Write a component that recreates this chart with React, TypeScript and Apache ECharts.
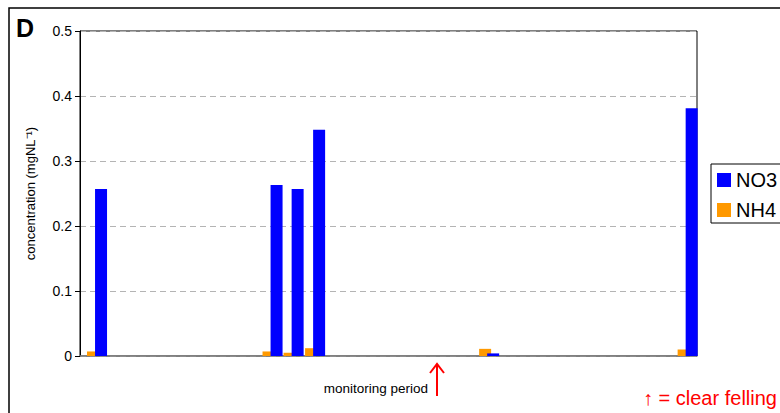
import React, { useEffect, useRef } from "react";
import * as echarts from "echarts";

// sampling positions along the monitoring period (months, estimated)
const samplePositions = [0.8, 9.05, 10.04, 11.05, 19.23, 28.56];
const no3Values = [0.257, 0.263, 0.257, 0.348, 0.004, 0.381];
const nh4Values = [0.007, 0.007, 0.005, 0.012, 0.011, 0.01];
const yTicks = [0, 0.1, 0.2, 0.3, 0.4, 0.5];
const clearFellingAt = 16.78;
const periodMax = 29;

const FONT = "'Liberation Sans', Arial, sans-serif";

export default function App() {
  const ref = useRef<HTMLDivElement>(null);
  useEffect(() => {
    const chart = echarts.init(ref.current!, undefined, { renderer: "svg" });
    const no3 = samplePositions.map((x, i) => [x, no3Values[i]]);
    const nh4 = samplePositions.map((x, i) => [x, nh4Values[i]]);
    chart.setOption({
      animation: false,
      textStyle: { fontFamily: FONT },
      grid: {
        left: 80,
        top: 31,
        right: 83,
        bottom: 57,
        show: true,
        borderColor: "#000",
        borderWidth: 1,
        backgroundColor: "transparent",
      },
      legend: {
        orient: "vertical",
        left: 711,
        top: 164,
        data: ["NO3", "NH4"],
        itemWidth: 14,
        itemHeight: 14,
        itemGap: 10,
        padding: [6, 30, 3, 6],
        borderColor: "#000",
        borderWidth: 1,
        icon: "rect",
        textStyle: { fontSize: 20, color: "#000", fontFamily: FONT },
      },
      xAxis: {
        type: "value",
        min: 0,
        max: periodMax,
        axisLine: { show: true, lineStyle: { color: "#808080", width: 1.5 } },
        axisTick: { show: false },
        axisLabel: { show: false },
        splitLine: { show: false },
      },
      yAxis: {
        type: "value",
        min: yTicks[0],
        max: yTicks[yTicks.length - 1],
        interval: 0.1,
        name: "concentration (mgNL⁻¹)",
        nameLocation: "middle",
        nameRotate: 90,
        nameGap: 43,
        nameTextStyle: { fontSize: 13, color: "#000", fontFamily: FONT },
        axisLine: { show: true, lineStyle: { color: "#000", width: 1 } },
        axisTick: { show: true, inside: false, length: 5, lineStyle: { color: "#000" } },
        axisLabel: {
          fontSize: 14,
          color: "#000",
          margin: 8,
          fontFamily: FONT,
          formatter: (v: number) => (v === 0 ? "0" : String(Math.round(v * 10) / 10)),
        },
        splitLine: {
          show: true,
          lineStyle: { color: "#b4b4b4", type: [6, 4], width: 1 },
        },
      },
      series: [
        {
          name: "NH4",
          type: "bar",
          data: nh4,
          barWidth: 12,
          barGap: "-33%",
          itemStyle: { color: "#FF9900" },
          z: 2,
        },
        {
          name: "NO3",
          type: "bar",
          data: no3,
          barWidth: 12,
          barGap: "-33%",
          itemStyle: { color: "#0000FF" },
          z: 3,
        },
      ],
    });
    const ax = chart.convertToPixel({ xAxisIndex: 0 }, clearFellingAt) as number;
    chart.setOption({
      graphic: [
        {
          type: "rect",
          shape: { x: 9, y: 8, width: 900, height: 600 },
          style: { fill: "none", stroke: "#000", lineWidth: 1.5 },
          silent: true,
        },
        {
          type: "text",
          left: 16,
          top: 15,
          style: { text: "D", font: `bold 25px ${FONT}`, fill: "#000" },
        },
        {
          type: "text",
          x: ax - 9,
          y: 388,
          style: {
            text: "monitoring period",
            font: `13.5px ${FONT}`,
            fill: "#000",
            align: "right",
            verticalAlign: "middle",
          },
        },
        {
          type: "line",
          shape: { x1: ax, y1: 364, x2: ax, y2: 396 },
          style: { stroke: "#ff0000", lineWidth: 2 },
        },
        {
          type: "polyline",
          shape: { points: [[ax - 7, 373], [ax, 364], [ax + 7, 373]] },
          style: { stroke: "#ff0000", lineWidth: 2, fill: "none" },
        },
        {
          type: "text",
          x: 643,
          y: 398,
          style: {
            text: "↑ = clear felling",
            font: `20px ${FONT}`,
            fill: "#ff0000",
            verticalAlign: "middle",
          },
        },
      ],
    });
    return () => chart.dispose();
  }, []);
  return (
    <div
      ref={ref}
      style={{ position: "absolute", left: 0, top: 0, width: 780, height: 413, background: "#fff" }}
    />
  );
}
